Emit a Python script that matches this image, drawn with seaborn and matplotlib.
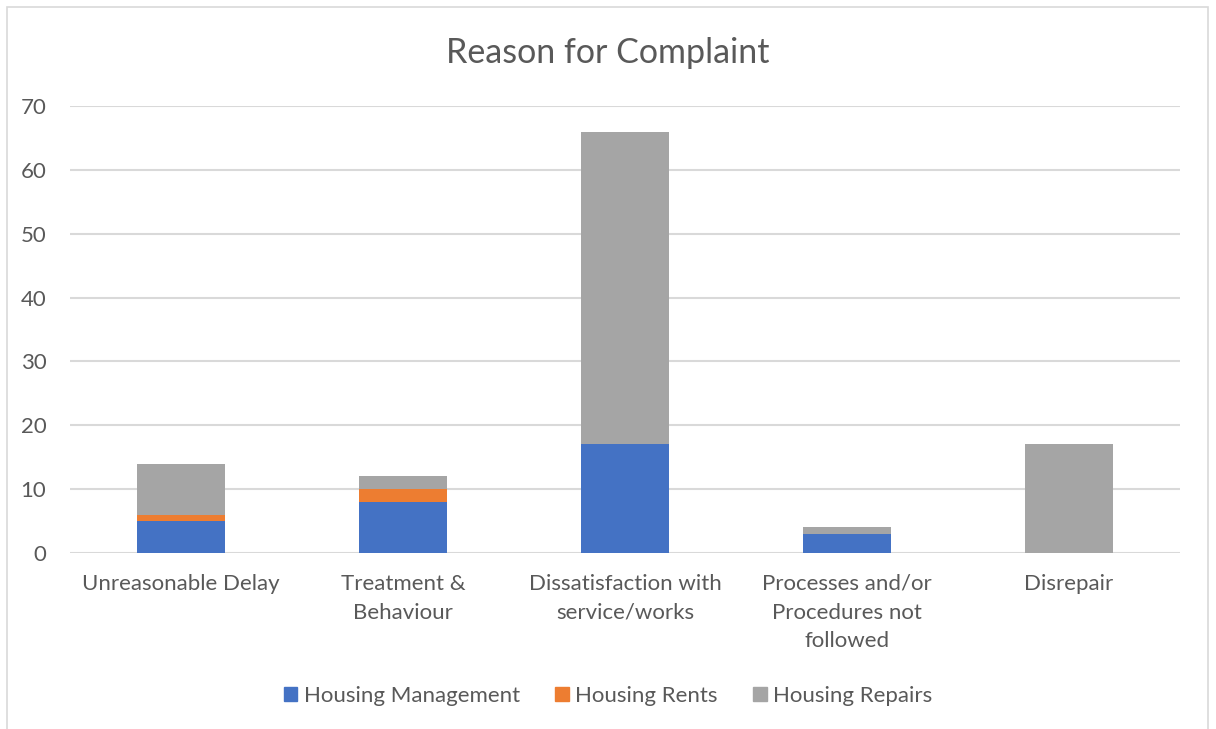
import matplotlib
matplotlib.use("Agg")
import matplotlib.pyplot as plt
import seaborn as sns
import pandas as pd
import numpy as np
from matplotlib.patches import Rectangle

categories = ["Unreasonable Delay", "Treatment &\nBehaviour", "Dissatisfaction with\nservice/works",
              "Processes and/or\nProcedures not\nfollowed", "Disrepair"]
management = [5, 8, 17, 3, 0]
rents = [1, 2, 0, 0, 0]
repairs = [8, 2, 49, 1, 17]
series_names = ["Housing Management", "Housing Rents", "Housing Repairs"]
colors = ["#4472C4", "#ED7D31", "#A5A5A5"]

sns.set_theme(style="white")
plt.rcParams['font.family'] = ['Lato', 'DejaVu Sans']
text_color = "#595959"

fig = plt.figure(figsize=(12.16, 7.29), dpi=100)
ax = fig.add_axes([70/1216, 1-553/729, 1110/1216, 447/729])

m = np.array(management)
r = np.array(rents)
p = np.array(repairs)
df = pd.DataFrame({"cat": categories, "m": m, "mr": m + r, "mrp": m + r + p})

# draw cumulative totals, largest first
for col, c in [("mrp", colors[2]), ("mr", colors[1]), ("m", colors[0])]:
    sns.barplot(data=df, x="cat", y=col, color=c, width=0.4, ax=ax,
                saturation=1, edgecolor="none", zorder=3)

ax.set_ylim(0, 70)
ax.set_xlim(-0.5, 4.5)
ax.set_yticks(range(0, 71, 10))
ax.yaxis.grid(True, color="#D9D9D9", linewidth=1.5, zorder=0)
ax.set_axisbelow(True)
for s in ax.spines.values():
    s.set_visible(False)
ax.set_xlabel("")
ax.set_ylabel("")
ax.tick_params(axis="both", length=0, colors=text_color, labelsize=16)
ax.tick_params(axis="x", pad=15)
ax.tick_params(axis="y", pad=17)
for lbl in ax.get_xticklabels():
    lbl.set_linespacing(1.55)
for lbl in ax.get_yticklabels():
    lbl.set_horizontalalignment("right")

fig.text(608/1216, 1-53/729, "Reason for Complaint", ha="center", va="center",
         fontsize=24.5, color=text_color)

handles = [Rectangle((0, 0), 1, 1, color=c) for c in colors]
fig.legend(handles, series_names, loc="center", bbox_to_anchor=(608/1216, 1-696/729),
           ncol=3, frameon=False, fontsize=16, labelcolor=text_color,
           handlelength=0.6, handleheight=0.6, handletextpad=0.3, columnspacing=1.6)

fig.patches.append(Rectangle((7/1216, -0.1), 1201/1216, 1.1 - 7/729, transform=fig.transFigure,
                             fill=False, edgecolor="#D9D9D9", linewidth=1.2))

fig.savefig("out.png", dpi=100, facecolor="white")
